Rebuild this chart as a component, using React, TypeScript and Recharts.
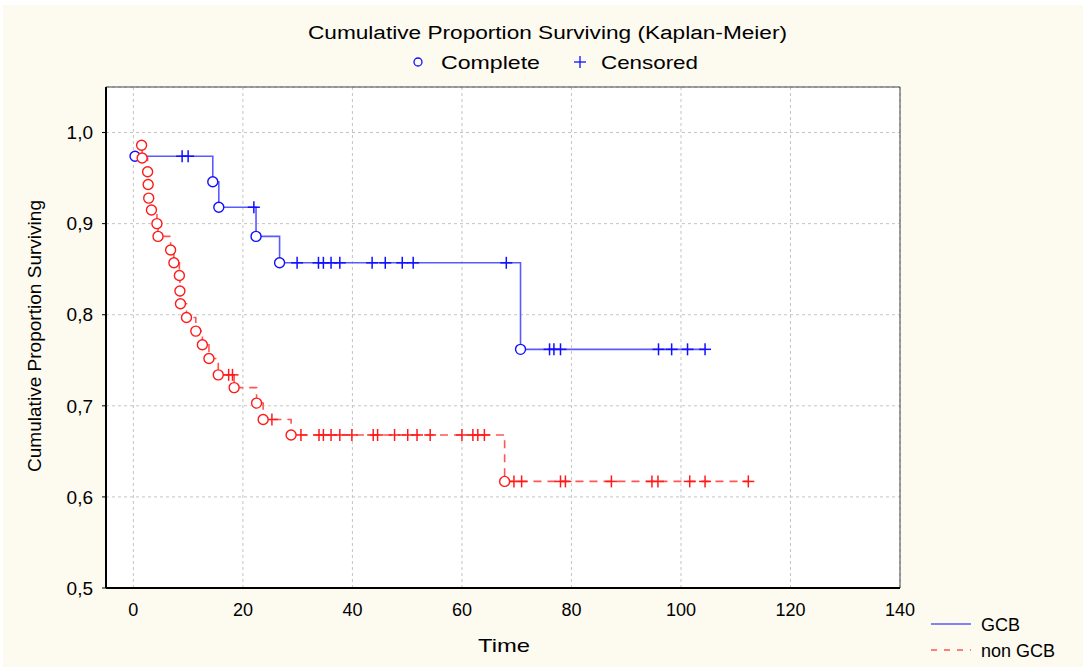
import React from 'react';
import { ComposedChart, Line, Scatter, XAxis, YAxis, CartesianGrid, ReferenceArea } from 'recharts';

const xTicks = [0, 20, 40, 60, 80, 100, 120, 140];
const yTicks = [0.5, 0.6, 0.7, 0.8, 0.9, 1.0];

// GCB (blue, solid)
const gcbEventTimes = [0.3, 14.5, 15.6, 22.4, 26.7, 70.7];
const gcbEventSurv = [0.974, 0.946, 0.918, 0.886, 0.857, 0.762];
const gcbCensorTimes = [8.9, 10.0, 22.0, 29.9, 33.8, 34.7, 36.1, 37.7, 43.6, 46.0, 49.1, 51.1, 68.1, 76.0, 76.8, 78.0, 95.9, 98.3, 101.2, 104.4];
const gcbCensorSurv = [0.974, 0.974, 0.918, 0.857, 0.857, 0.857, 0.857, 0.857, 0.857, 0.857, 0.857, 0.857, 0.857, 0.762, 0.762, 0.762, 0.762, 0.762, 0.762, 0.762];

// non GCB (red, dashed)
const nonEventTimes = [1.5, 1.6, 2.6, 2.7, 2.8, 3.3, 4.3, 4.5, 6.8, 7.4, 8.4, 8.5, 8.6, 9.7, 11.4, 12.6, 13.8, 15.5, 18.4, 22.5, 23.7, 28.8, 67.8];
const nonEventSurv = [0.986, 0.972, 0.957, 0.943, 0.928, 0.915, 0.900, 0.886, 0.871, 0.857, 0.843, 0.826, 0.812, 0.797, 0.782, 0.767, 0.752, 0.734, 0.720, 0.703, 0.685, 0.668, 0.617];
const nonCensorTimes = [17.4, 18.1, 25.3, 30.6, 33.9, 34.7, 36.1, 37.7, 39.9, 43.8, 44.6, 47.7, 50.1, 51.8, 54.2, 60.0, 62.0, 62.9, 64.1, 69.5, 70.9, 78.0, 78.9, 87.3, 94.7, 95.8, 101.6, 104.4, 112.3];
const nonCensorSurv = [0.734, 0.734, 0.685, 0.668, 0.668, 0.668, 0.668, 0.668, 0.668, 0.668, 0.668, 0.668, 0.668, 0.668, 0.668, 0.668, 0.668, 0.668, 0.668, 0.617, 0.617, 0.617, 0.617, 0.617, 0.617, 0.617, 0.617, 0.617, 0.617];

const toPoints = (ts: number[], ss: number[]) => ts.map((t, i) => ({ t, s: ss[i] }));
const merge = (a: { t: number; s: number }[], b: { t: number; s: number }[]) =>
  [...a, ...b].sort((p, q) => p.t - q.t);

const gcbEvents = toPoints(gcbEventTimes, gcbEventSurv);
const gcbCensors = toPoints(gcbCensorTimes, gcbCensorSurv);
const gcbLine = merge(gcbEvents, gcbCensors);
const nonEvents = toPoints(nonEventTimes, nonEventSurv);
const nonCensors = toPoints(nonCensorTimes, nonCensorSurv);
const nonLine = merge(nonEvents, nonCensors);

const FONT = '"Liberation Sans", Arial, sans-serif';
const BLUE_LINE = '#5a5aff';
const BLUE_MARK = '#1010ff';
const RED_LINE = '#ff5555';
const RED_MARK = '#ff1a1a';

const circleShape = (color: string) => (props: any) => {
  const { cx, cy } = props;
  if (cx == null || cy == null) return <g />;
  return <circle cx={cx} cy={cy} r={5} fill="#fff" stroke={color} strokeWidth={1.4} />;
};
const plusShape = (color: string) => (props: any) => {
  const { cx, cy } = props;
  if (cx == null || cy == null) return <g />;
  return (
    <g stroke={color} strokeWidth={1.5}>
      <line x1={cx - 6} y1={cy} x2={cx + 6} y2={cy} />
      <line x1={cx} y1={cy - 6} x2={cx} y2={cy + 6} />
    </g>
  );
};

export default function App() {
  return (
    <div style={{ position: 'absolute', left: 0, top: 0, width: 1083, height: 667, background: '#fff' }}>
      <div style={{ position: 'absolute', left: 3, top: 5, width: 1080, height: 662, background: '#fdfaf0' }} />
      <div style={{ position: 'absolute', left: 0, top: 0 }}>
        <ComposedChart width={1083} height={667} margin={{ top: 87, right: 183, bottom: 39, left: 0 }}>
          <CartesianGrid stroke="#c4c4c4" strokeDasharray="3 3" fill="#ffffff" />
          <XAxis
            type="number"
            dataKey="t"
            domain={[-5, 140]}
            ticks={xTicks}
            interval={0}
            allowDataOverflow
            height={40}
            tickLine={false}
            tickSize={0}
            tickMargin={15}
            axisLine={{ stroke: '#000', strokeWidth: 2 }}
            tick={{ fill: '#000', fontSize: 18, fontFamily: FONT }}
          />
          <YAxis
            type="number"
            domain={[0.5, 1.05]}
            ticks={yTicks}
            interval={0}
            allowDataOverflow
            width={106}
            tickSize={4}
            tickMargin={9}
            tickLine={{ stroke: '#000' }}
            axisLine={{ stroke: '#000', strokeWidth: 2 }}
            tickFormatter={(v: number) => v.toFixed(1).replace('.', ',')}
            tick={{ fill: '#000', fontSize: 19, fontFamily: FONT }}
          />
          <ReferenceArea x1={-5} x2={140} y1={0.5} y2={1.05} fill="none" stroke="#444" strokeWidth={1} ifOverflow="visible" />
          <Line data={gcbLine} dataKey="s" type="stepAfter" stroke={BLUE_LINE} strokeWidth={1.6} dot={false} activeDot={false} isAnimationActive={false} />
          <Line data={nonLine} dataKey="s" type="stepAfter" stroke={RED_LINE} strokeWidth={1.6} strokeDasharray="8 6" dot={false} activeDot={false} isAnimationActive={false} />
          <Scatter data={gcbCensors} dataKey="s" shape={plusShape(BLUE_MARK)} isAnimationActive={false} />
          <Scatter data={gcbEvents} dataKey="s" shape={circleShape(BLUE_MARK)} isAnimationActive={false} />
          <Scatter data={nonCensors} dataKey="s" shape={plusShape(RED_MARK)} isAnimationActive={false} />
          <Scatter data={nonEvents} dataKey="s" shape={circleShape(RED_MARK)} isAnimationActive={false} />
        </ComposedChart>
      </div>
      <svg width={1083} height={667} style={{ position: 'absolute', left: 0, top: 0, pointerEvents: 'none' }} fontFamily={FONT}>
        <text x={308} y={39} fontSize={18} fill="#000" textLength={479} lengthAdjust="spacingAndGlyphs">Cumulative Proportion Surviving (Kaplan-Meier)</text>
        <circle cx={418} cy={62} r={4} fill="none" stroke={BLUE_MARK} strokeWidth={1.3} />
        <text x={441} y={69} fontSize={19} fill="#000" textLength={99} lengthAdjust="spacingAndGlyphs">Complete</text>
        <g stroke={BLUE_MARK} strokeWidth={1.3}>
          <line x1={574} y1={62} x2={586} y2={62} />
          <line x1={580} y1={56} x2={580} y2={68} />
        </g>
        <text x={601} y={69} fontSize={19} fill="#000" textLength={97} lengthAdjust="spacingAndGlyphs">Censored</text>
        <text x={0} y={0} transform="translate(41,336) rotate(-90)" textAnchor="middle" fontSize={18} fill="#000" textLength={272} lengthAdjust="spacingAndGlyphs">Cumulative Proportion Surviving</text>
        <text x={478} y={652} fontSize={19} fill="#000" textLength={52} lengthAdjust="spacingAndGlyphs">Time</text>
        <line x1={931} y1={624} x2={971} y2={624} stroke={BLUE_LINE} strokeWidth={1.5} />
        <text x={981} y={631} fontSize={18} fill="#000">GCB</text>
        <line x1={931} y1={650} x2={971} y2={650} stroke={RED_LINE} strokeWidth={1.5} strokeDasharray="6 7" />
        <text x={981} y={657} fontSize={18} fill="#000">non GCB</text>
      </svg>
    </div>
  );
}
